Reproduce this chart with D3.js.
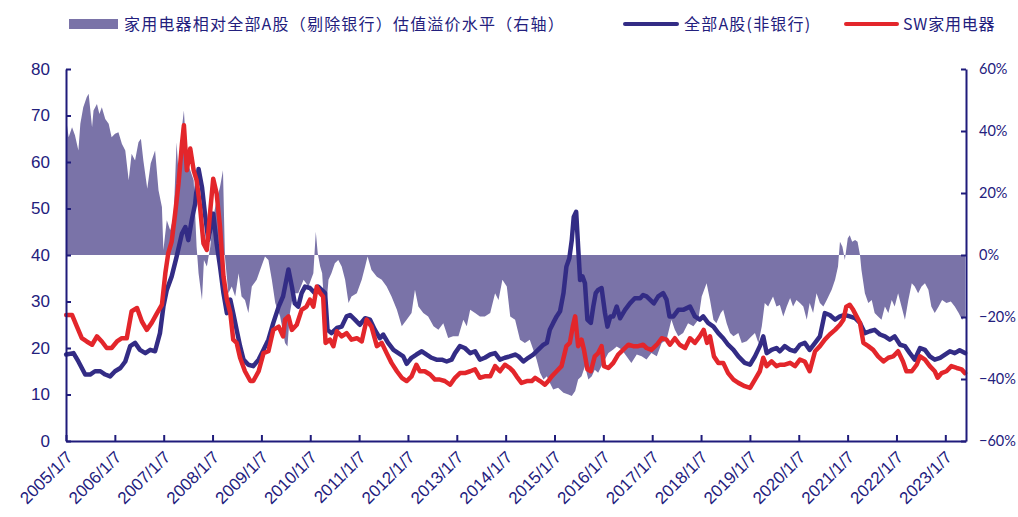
<!DOCTYPE html>
<html>
<head>
<meta charset="utf-8">
<script src="https://cdn.jsdelivr.net/npm/d3@7"></script>
<style>
  body { margin: 0; background: #fff; }
  svg text { fill: #23207d; }
</style>
</head>
<body>
<div id="chart"></div>
<script>
// ticks
const xTickLabels = ["2005/1/7","2006/1/7","2007/1/7","2008/1/7","2009/1/7","2010/1/7","2011/1/7","2012/1/7","2013/1/7",
  "2014/1/7","2015/1/7","2016/1/7","2017/1/7","2018/1/7","2019/1/7","2020/1/7","2021/1/7","2022/1/7","2023/1/7"]
const leftTicks = [0, 10, 20, 30, 40, 50, 60, 70, 80]
const rightTicks = [-60, -40, -20, 0, 20, 40, 60]
const xStart = "2005/1/7", xEnd = 2023.44   // last week in the sample (decimal year)

// 家用电器相对全部A股（剔除银行）估值溢价水平, % (right axis) -- [decimal year, value]
const premiumPts = [
  [2005.02,43.9],[2005.07,38.0],[2005.14,41.2],[2005.20,38.6],[2005.27,33.7],[2005.31,42.3],[2005.37,47.7],[2005.44,50.9],
  [2005.48,52.0],[2005.55,41.2],[2005.58,46.6],[2005.65,48.7],[2005.70,45.5],[2005.75,47.7],[2005.82,43.9],[2005.89,42.3],
  [2005.95,38.0],[2006.02,39.1],[2006.09,39.6],[2006.16,35.9],[2006.23,33.7],[2006.30,24.1],[2006.36,32.7],[2006.43,30.5],
  [2006.50,36.4],[2006.55,37.5],[2006.60,30.5],[2006.68,21.4],[2006.75,29.5],[2006.84,33.7],[2006.91,20.9],[2006.98,15.5],
  [2007.01,1.6],[2007.08,11.2],[2007.15,8.0],[2007.22,12.3],[2007.28,36.4],[2007.32,26.2],[2007.39,41.2],[2007.43,46.6],
  [2007.49,30.5],[2007.56,27.3],[2007.63,24.1],[2007.69,2.7],[2007.73,-5.9],[2007.80,-14.5],[2007.84,-1.6],[2007.90,-3.7],
  [2007.97,2.7],[2008.03,12.3],[2008.10,17.7],[2008.17,22.0],[2008.23,27.3],[2008.27,-0.5],[2008.34,-12.3],[2008.41,-10.2],
  [2008.48,-13.4],[2008.55,-5.9],[2008.61,-13.4],[2008.68,-14.5],[2008.75,-18.7],[2008.82,-10.2],[2008.92,-8.0],[2008.99,-4.8],
  [2009.09,-0.5],[2009.16,-1.6],[2009.23,-8.0],[2009.30,-15.5],[2009.40,-19.8],[2009.50,-28.4],[2009.55,-29.5],[2009.60,-18.7],
  [2009.67,-12.3],[2009.77,-12.3],[2009.88,-8.0],[2009.98,-10.2],[2010.08,-5.9],[2010.13,7.5],[2010.17,0.5],[2010.22,-3.7],
  [2010.26,-5.9],[2010.32,-20.9],[2010.39,-8.0],[2010.45,-5.9],[2010.52,-2.7],[2010.59,-1.6],[2010.66,-3.7],[2010.73,-8.0],
  [2010.80,-15.5],[2010.86,-13.4],[2010.97,-12.3],[2011.07,-8.0],[2011.14,-3.7],[2011.19,-0.5],[2011.27,-4.8],[2011.38,-7.0],
  [2011.48,-8.0],[2011.58,-10.2],[2011.68,-13.4],[2011.79,-17.7],[2011.89,-23.0],[2011.99,-20.9],[2012.09,-18.7],[2012.16,-11.2],
  [2012.23,-16.6],[2012.33,-18.7],[2012.43,-19.8],[2012.54,-23.0],[2012.64,-24.1],[2012.74,-22.0],[2012.84,-26.8],[2012.94,-26.2],
  [2013.05,-26.2],[2013.15,-20.9],[2013.22,-23.0],[2013.29,-17.7],[2013.39,-18.7],[2013.49,-19.8],[2013.59,-19.8],[2013.70,-18.7],
  [2013.80,-12.3],[2013.87,-14.5],[2013.95,-8.0],[2014.04,-10.2],[2014.11,-19.8],[2014.21,-20.9],[2014.31,-27.3],[2014.41,-28.4],
  [2014.51,-27.3],[2014.58,-30.5],[2014.65,-33.7],[2014.72,-38.0],[2014.79,-40.2],[2014.86,-39.1],[2014.92,-41.2],[2014.99,-43.4],
  [2015.09,-42.8],[2015.20,-44.4],[2015.30,-45.0],[2015.37,-45.5],[2015.44,-43.9],[2015.50,-40.2],[2015.57,-39.1],[2015.64,-35.9],
  [2015.71,-40.2],[2015.78,-39.1],[2015.84,-37.0],[2015.91,-38.0],[2016.01,-34.8],[2016.12,-31.6],[2016.22,-30.5],[2016.29,-29.5],
  [2016.39,-30.5],[2016.49,-32.7],[2016.59,-34.8],[2016.70,-32.1],[2016.80,-32.7],[2016.90,-33.7],[2017.00,-31.6],[2017.11,-32.7],
  [2017.21,-28.4],[2017.31,-27.3],[2017.41,-20.9],[2017.48,-24.1],[2017.55,-26.2],[2017.65,-25.2],[2017.75,-22.0],[2017.86,-23.0],
  [2017.96,-20.9],[2018.03,-13.4],[2018.13,-9.1],[2018.20,-14.5],[2018.27,-20.9],[2018.33,-22.0],[2018.42,-18.7],[2018.47,-17.7],
  [2018.54,-22.0],[2018.61,-25.2],[2018.68,-26.2],[2018.78,-25.2],[2018.85,-28.4],[2018.95,-27.8],[2019.05,-26.2],[2019.12,-25.2],
  [2019.19,-28.4],[2019.26,-23.0],[2019.32,-15.5],[2019.39,-16.6],[2019.49,-13.4],[2019.56,-16.6],[2019.63,-16.1],[2019.70,-19.8],
  [2019.77,-16.6],[2019.84,-13.9],[2019.90,-16.6],[2019.97,-14.5],[2020.04,-15.5],[2020.11,-16.6],[2020.18,-20.9],[2020.24,-15.5],
  [2020.31,-18.7],[2020.38,-12.3],[2020.45,-15.5],[2020.52,-16.6],[2020.59,-14.5],[2020.69,-11.2],[2020.76,-8.0],[2020.82,-3.7],
  [2020.86,4.3],[2020.91,2.7],[2020.96,-1.6],[2021.02,5.4],[2021.06,6.4],[2021.11,4.3],[2021.17,4.8],[2021.22,4.3],
  [2021.27,0.0],[2021.30,-4.8],[2021.37,-12.3],[2021.44,-15.5],[2021.51,-14.5],[2021.57,-18.7],[2021.64,-19.8],[2021.71,-20.9],
  [2021.78,-16.6],[2021.85,-18.7],[2021.92,-14.5],[2021.98,-16.6],[2022.05,-12.3],[2022.12,-16.6],[2022.19,-20.9],[2022.26,-14.5],
  [2022.33,-9.1],[2022.39,-10.2],[2022.46,-12.3],[2022.53,-10.2],[2022.60,-9.1],[2022.67,-11.2],[2022.73,-16.6],[2022.80,-18.7],
  [2022.88,-16.6],[2022.95,-14.5],[2023.04,-15.5],[2023.13,-15.0],[2023.21,-16.6],[2023.29,-18.7],[2023.36,-20.9],[2023.42,-19.8]
]

// 全部A股(非银行) PE (left axis)
const allAPts = [
  [2005.02,18.6],[2005.17,18.9],[2005.27,17.1],[2005.41,14.3],[2005.51,14.3],[2005.61,15.0],[2005.72,15.0],[2005.82,14.3],
  [2005.92,13.9],[2006.02,15.0],[2006.13,15.7],[2006.23,17.1],[2006.33,20.4],[2006.43,21.1],[2006.53,19.6],[2006.64,18.9],
  [2006.74,19.6],[2006.84,19.3],[2006.94,23.2],[2007.01,28.9],[2007.08,32.5],[2007.18,35.4],[2007.28,39.6],[2007.39,44.6],
  [2007.46,46.0],[2007.52,43.2],[2007.59,47.5],[2007.66,51.0],[2007.73,58.5],[2007.80,54.6],[2007.86,48.9],[2007.93,43.2],
  [2008.03,48.9],[2008.10,42.5],[2008.17,37.5],[2008.24,31.8],[2008.31,27.5],[2008.38,30.4],[2008.44,27.5],[2008.51,23.9],
  [2008.58,20.4],[2008.65,17.5],[2008.75,16.4],[2008.85,16.1],[2008.96,17.5],[2009.06,19.6],[2009.16,21.8],[2009.26,25.4],
  [2009.37,28.9],[2009.46,31.1],[2009.57,36.9],[2009.64,33.2],[2009.70,29.6],[2009.77,28.9],[2009.84,31.8],[2009.91,33.2],
  [2010.01,32.9],[2010.11,31.8],[2010.18,33.2],[2010.25,32.5],[2010.32,31.8],[2010.37,23.9],[2010.45,23.2],[2010.56,24.3],
  [2010.66,24.6],[2010.76,26.8],[2010.83,27.1],[2010.93,26.1],[2011.03,25.0],[2011.14,26.4],[2011.24,26.1],[2011.34,23.9],
  [2011.44,22.1],[2011.51,22.9],[2011.61,21.1],[2011.72,19.6],[2011.82,18.9],[2011.92,18.2],[2011.99,16.6],[2012.09,17.9],
  [2012.19,18.6],[2012.30,19.3],[2012.40,18.6],[2012.50,17.9],[2012.60,17.5],[2012.71,17.5],[2012.81,17.1],[2012.91,17.5],
  [2012.98,18.9],[2013.08,20.4],[2013.18,20.0],[2013.29,18.9],[2013.39,19.3],[2013.49,17.5],[2013.59,17.9],[2013.70,18.6],
  [2013.80,18.9],[2013.90,17.5],[2014.00,17.9],[2014.10,18.2],[2014.21,18.6],[2014.28,18.2],[2014.38,17.1],[2014.48,17.9],
  [2014.58,18.6],[2014.68,19.6],[2014.79,20.7],[2014.86,21.1],[2014.92,23.9],[2014.99,25.4],[2015.06,26.8],[2015.13,27.9],
  [2015.20,31.8],[2015.26,37.5],[2015.32,39.3],[2015.37,43.2],[2015.41,48.2],[2015.46,49.3],[2015.50,41.8],[2015.54,34.6],
  [2015.59,35.4],[2015.64,33.9],[2015.69,26.1],[2015.76,25.4],[2015.81,28.9],[2015.86,31.8],[2015.91,32.5],[2015.98,32.9],
  [2016.05,27.5],[2016.10,24.6],[2016.16,26.8],[2016.22,26.8],[2016.29,28.9],[2016.36,26.4],[2016.46,28.2],[2016.56,29.6],
  [2016.66,30.7],[2016.77,30.7],[2016.83,31.4],[2016.90,31.1],[2016.97,30.4],[2017.05,29.6],[2017.14,31.1],[2017.24,31.8],
  [2017.31,30.4],[2017.37,26.8],[2017.45,26.8],[2017.55,28.2],[2017.65,28.2],[2017.79,28.9],[2017.89,26.8],[2017.99,26.1],
  [2018.06,26.8],[2018.16,25.4],[2018.27,24.6],[2018.37,23.2],[2018.47,22.1],[2018.57,20.7],[2018.68,19.6],[2018.78,18.2],
  [2018.91,16.8],[2019.02,16.4],[2019.12,18.2],[2019.22,20.4],[2019.29,22.5],[2019.36,18.9],[2019.46,19.6],[2019.56,20.0],
  [2019.63,19.3],[2019.73,20.4],[2019.84,19.6],[2019.94,19.3],[2020.04,20.7],[2020.14,21.1],[2020.24,19.6],[2020.35,21.1],
  [2020.45,22.5],[2020.55,27.5],[2020.65,27.1],[2020.76,26.1],[2020.86,26.8],[2020.96,27.1],[2021.06,26.8],[2021.17,26.4],
  [2021.27,25.4],[2021.37,23.2],[2021.47,23.6],[2021.57,23.9],[2021.68,22.9],[2021.78,22.5],[2021.88,21.8],[2021.98,22.5],
  [2022.09,20.7],[2022.19,20.4],[2022.29,18.9],[2022.39,17.5],[2022.50,20.0],[2022.60,19.6],[2022.70,18.2],[2022.80,17.5],
  [2022.91,17.9],[2023.01,18.6],[2023.11,19.3],[2023.21,18.9],[2023.31,19.5],[2023.42,18.9]
]

// SW家用电器 PE (left axis)
const swPts = [
  [2005.02,27.1],[2005.14,27.1],[2005.24,24.6],[2005.34,22.1],[2005.44,21.4],[2005.55,20.7],[2005.65,22.5],[2005.75,21.4],
  [2005.85,20.0],[2005.95,20.0],[2006.06,21.4],[2006.16,22.1],[2006.26,22.1],[2006.36,27.9],[2006.47,28.6],[2006.57,25.7],
  [2006.67,23.9],[2006.77,25.4],[2006.88,27.5],[2006.98,29.3],[2007.05,36.1],[2007.11,40.4],[2007.18,42.9],[2007.25,48.9],
  [2007.32,55.4],[2007.39,63.9],[2007.43,67.9],[2007.49,58.2],[2007.56,62.9],[2007.63,58.2],[2007.69,56.1],[2007.76,50.4],
  [2007.83,42.5],[2007.90,41.1],[2007.97,49.6],[2008.03,56.4],[2008.10,53.2],[2008.17,46.0],[2008.24,35.4],[2008.31,30.4],
  [2008.38,27.5],[2008.44,21.8],[2008.51,21.1],[2008.58,17.9],[2008.68,15.0],[2008.79,12.9],[2008.85,12.9],[2008.96,15.0],
  [2009.06,18.9],[2009.16,19.3],[2009.26,23.9],[2009.37,24.6],[2009.46,22.5],[2009.50,26.1],[2009.57,26.8],[2009.64,23.9],
  [2009.74,25.0],[2009.84,28.2],[2009.94,28.9],[2010.01,30.4],[2010.08,28.9],[2010.15,33.2],[2010.22,31.8],[2010.28,31.1],
  [2010.33,21.1],[2010.42,21.8],[2010.49,20.4],[2010.56,23.6],[2010.66,22.5],[2010.76,23.2],[2010.86,21.8],[2010.97,22.1],
  [2011.07,21.4],[2011.17,26.1],[2011.27,24.6],[2011.38,20.4],[2011.48,21.1],[2011.58,18.9],[2011.68,16.8],[2011.79,15.0],
  [2011.89,13.6],[2011.99,12.9],[2012.09,13.9],[2012.19,16.4],[2012.26,15.0],[2012.36,15.0],[2012.47,14.3],[2012.57,13.2],
  [2012.67,13.2],[2012.77,12.9],[2012.88,12.1],[2012.98,13.6],[2013.08,14.6],[2013.18,14.6],[2013.29,15.0],[2013.39,15.4],
  [2013.49,13.6],[2013.59,13.9],[2013.70,13.9],[2013.80,16.1],[2013.90,15.0],[2014.00,16.4],[2014.10,15.7],[2014.17,15.0],
  [2014.24,13.9],[2014.34,12.5],[2014.45,12.9],[2014.55,12.9],[2014.62,13.6],[2014.72,12.9],[2014.82,12.1],[2014.89,12.9],
  [2014.96,13.9],[2015.06,15.0],[2015.16,16.1],[2015.26,20.4],[2015.33,21.1],[2015.39,24.6],[2015.44,26.8],[2015.50,20.4],
  [2015.57,21.8],[2015.62,19.6],[2015.69,15.4],[2015.76,15.0],[2015.84,18.2],[2015.91,18.9],[2015.98,20.4],[2016.03,16.1],
  [2016.12,15.7],[2016.22,16.8],[2016.32,18.6],[2016.42,19.6],[2016.53,20.7],[2016.63,20.4],[2016.73,20.4],[2016.83,20.7],
  [2016.90,20.0],[2017.00,19.6],[2017.11,20.7],[2017.21,22.1],[2017.31,21.8],[2017.38,20.7],[2017.48,22.1],[2017.58,20.7],
  [2017.69,20.0],[2017.79,22.1],[2017.89,21.1],[2017.99,22.5],[2018.07,23.9],[2018.14,21.1],[2018.20,22.5],[2018.28,18.2],
  [2018.37,16.8],[2018.47,16.8],[2018.57,14.6],[2018.68,13.2],[2018.78,12.5],[2018.91,11.8],[2019.02,11.4],[2019.12,13.2],
  [2019.22,15.0],[2019.29,17.9],[2019.36,16.1],[2019.46,17.1],[2019.56,16.1],[2019.63,16.4],[2019.73,16.4],[2019.84,16.8],
  [2019.94,16.1],[2020.04,17.5],[2020.14,17.1],[2020.24,15.0],[2020.35,19.3],[2020.45,20.4],[2020.55,21.8],[2020.65,22.9],
  [2020.76,23.9],[2020.86,25.0],[2020.93,26.1],[2020.99,28.9],[2021.06,29.3],[2021.13,28.2],[2021.20,26.8],[2021.27,25.4],
  [2021.34,21.1],[2021.44,20.4],[2021.54,19.6],[2021.64,18.2],[2021.75,17.1],[2021.85,17.9],[2021.95,18.2],[2022.05,19.3],
  [2022.15,17.1],[2022.22,15.0],[2022.33,15.0],[2022.43,16.4],[2022.50,18.2],[2022.60,17.5],[2022.70,16.1],[2022.80,15.0],
  [2022.86,13.6],[2022.94,14.6],[2023.04,15.0],[2023.14,16.1],[2023.25,15.7],[2023.35,15.4],[2023.42,14.6]
]

const navy = "#1f1b7b", areaColor = "#7a73a8", blueColor = "#332c85", redColor = "#e3262b"

function decYear(label) {
  var p = label.split("/").map(Number)
  var d = new Date(p[0], p[1] - 1, p[2]), y0 = new Date(p[0], 0, 1), y1 = new Date(p[0] + 1, 0, 1)
  return p[0] + (d - y0) / (y1 - y0)
}

const margin = {top: 69, right: 52, bottom: 76, left: 66},
      W = 1018, H = 517,
      w = W - margin.left - margin.right,
      h = H - margin.top - margin.bottom

const svg = d3.select("#chart").append("svg")
  .attr("width", W).attr("height", H)
  .style("font-family", "'Liberation Sans', Arial, sans-serif")

const g = svg.append("g").attr("transform", "translate(" + margin.left + "," + margin.top + ")")

const x = d3.scaleLinear().domain([decYear(xStart), xEnd]).range([0, w])
const yL = d3.scaleLinear().domain([0, 80]).range([h, 0])
const yR = d3.scaleLinear().domain([-60, 60]).range([h, 0])

// premium area against the 0% line
const area = d3.area()
  .x(d => x(d[0]))
  .y0(yR(0))
  .y1(d => yR(d[1]))
g.append("path").datum(premiumPts)
  .attr("d", area)
  .attr("fill", areaColor)

const line = d3.line().x(d => x(d[0])).y(d => yL(d[1]))
g.append("path").datum(allAPts)
  .attr("d", line)
  .attr("fill", "none").attr("stroke", blueColor)
  .attr("stroke-width", 4.5).attr("stroke-linejoin", "round").attr("stroke-linecap", "round")
g.append("path").datum(swPts)
  .attr("d", line)
  .attr("fill", "none").attr("stroke", redColor)
  .attr("stroke-width", 4.5).attr("stroke-linejoin", "round").attr("stroke-linecap", "round")

// axes
const gL = g.append("g")
  .call(d3.axisLeft(yL).tickValues(leftTicks).tickSizeInner(-5).tickSizeOuter(0).tickPadding(16))
gL.selectAll("text").style("font-size", "17px")

const gR = g.append("g").attr("transform", "translate(" + w + ",0)")
  .call(d3.axisRight(yR).tickValues(rightTicks).tickSizeInner(-5).tickSizeOuter(0).tickPadding(13)
    .tickFormat(d => (d < 0 ? "\u2212" + (-d) : d) + "%"))
gR.selectAll("text").style("font-size", "14.5px").style("font-family", "Lato, 'Liberation Sans', sans-serif")

const gX = g.append("g").attr("transform", "translate(0," + h + ")")
  .call(d3.axisBottom(x).tickValues(xTickLabels.map(decYear)).tickSizeInner(-6).tickSizeOuter(0)
    .tickFormat((d, i) => xTickLabels[i]))
gX.selectAll("text")
  .attr("x", 0).attr("y", 0).attr("dy", "0.35em")
  .attr("text-anchor", "end")
  .attr("transform", "translate(3,13) rotate(-45)")
  .style("font-size", "17px")

g.selectAll(".domain, .tick line").attr("stroke", navy).attr("stroke-width", 2)
g.selectAll(".tick text").attr("fill", "#23207d")

// legend
const lg = svg.append("g").style("font-family", "'Noto Sans CJK SC', sans-serif").style("font-size", "16px")
lg.append("rect").attr("x", 69).attr("y", 19).attr("width", 49).attr("height", 10).attr("fill", areaColor)
lg.append("text").attr("x", 124).attr("y", 30).attr("letter-spacing", "1.2px")
  .text("家用电器相对全部A股（剔除银行）估值溢价水平（右轴）")
lg.append("line").attr("x1", 625).attr("x2", 677).attr("y1", 24).attr("y2", 24)
  .attr("stroke", blueColor).attr("stroke-width", 4).attr("stroke-linecap", "round")
lg.append("text").attr("x", 684).attr("y", 30).attr("letter-spacing", "1.2px").text("全部A股(非银行)")
lg.append("line").attr("x1", 846).attr("x2", 897).attr("y1", 24).attr("y2", 24)
  .attr("stroke", redColor).attr("stroke-width", 4).attr("stroke-linecap", "round")
lg.append("text").attr("x", 903).attr("y", 30).attr("letter-spacing", "0.8px").text("SW家用电器")
</script>
</body>
</html>
